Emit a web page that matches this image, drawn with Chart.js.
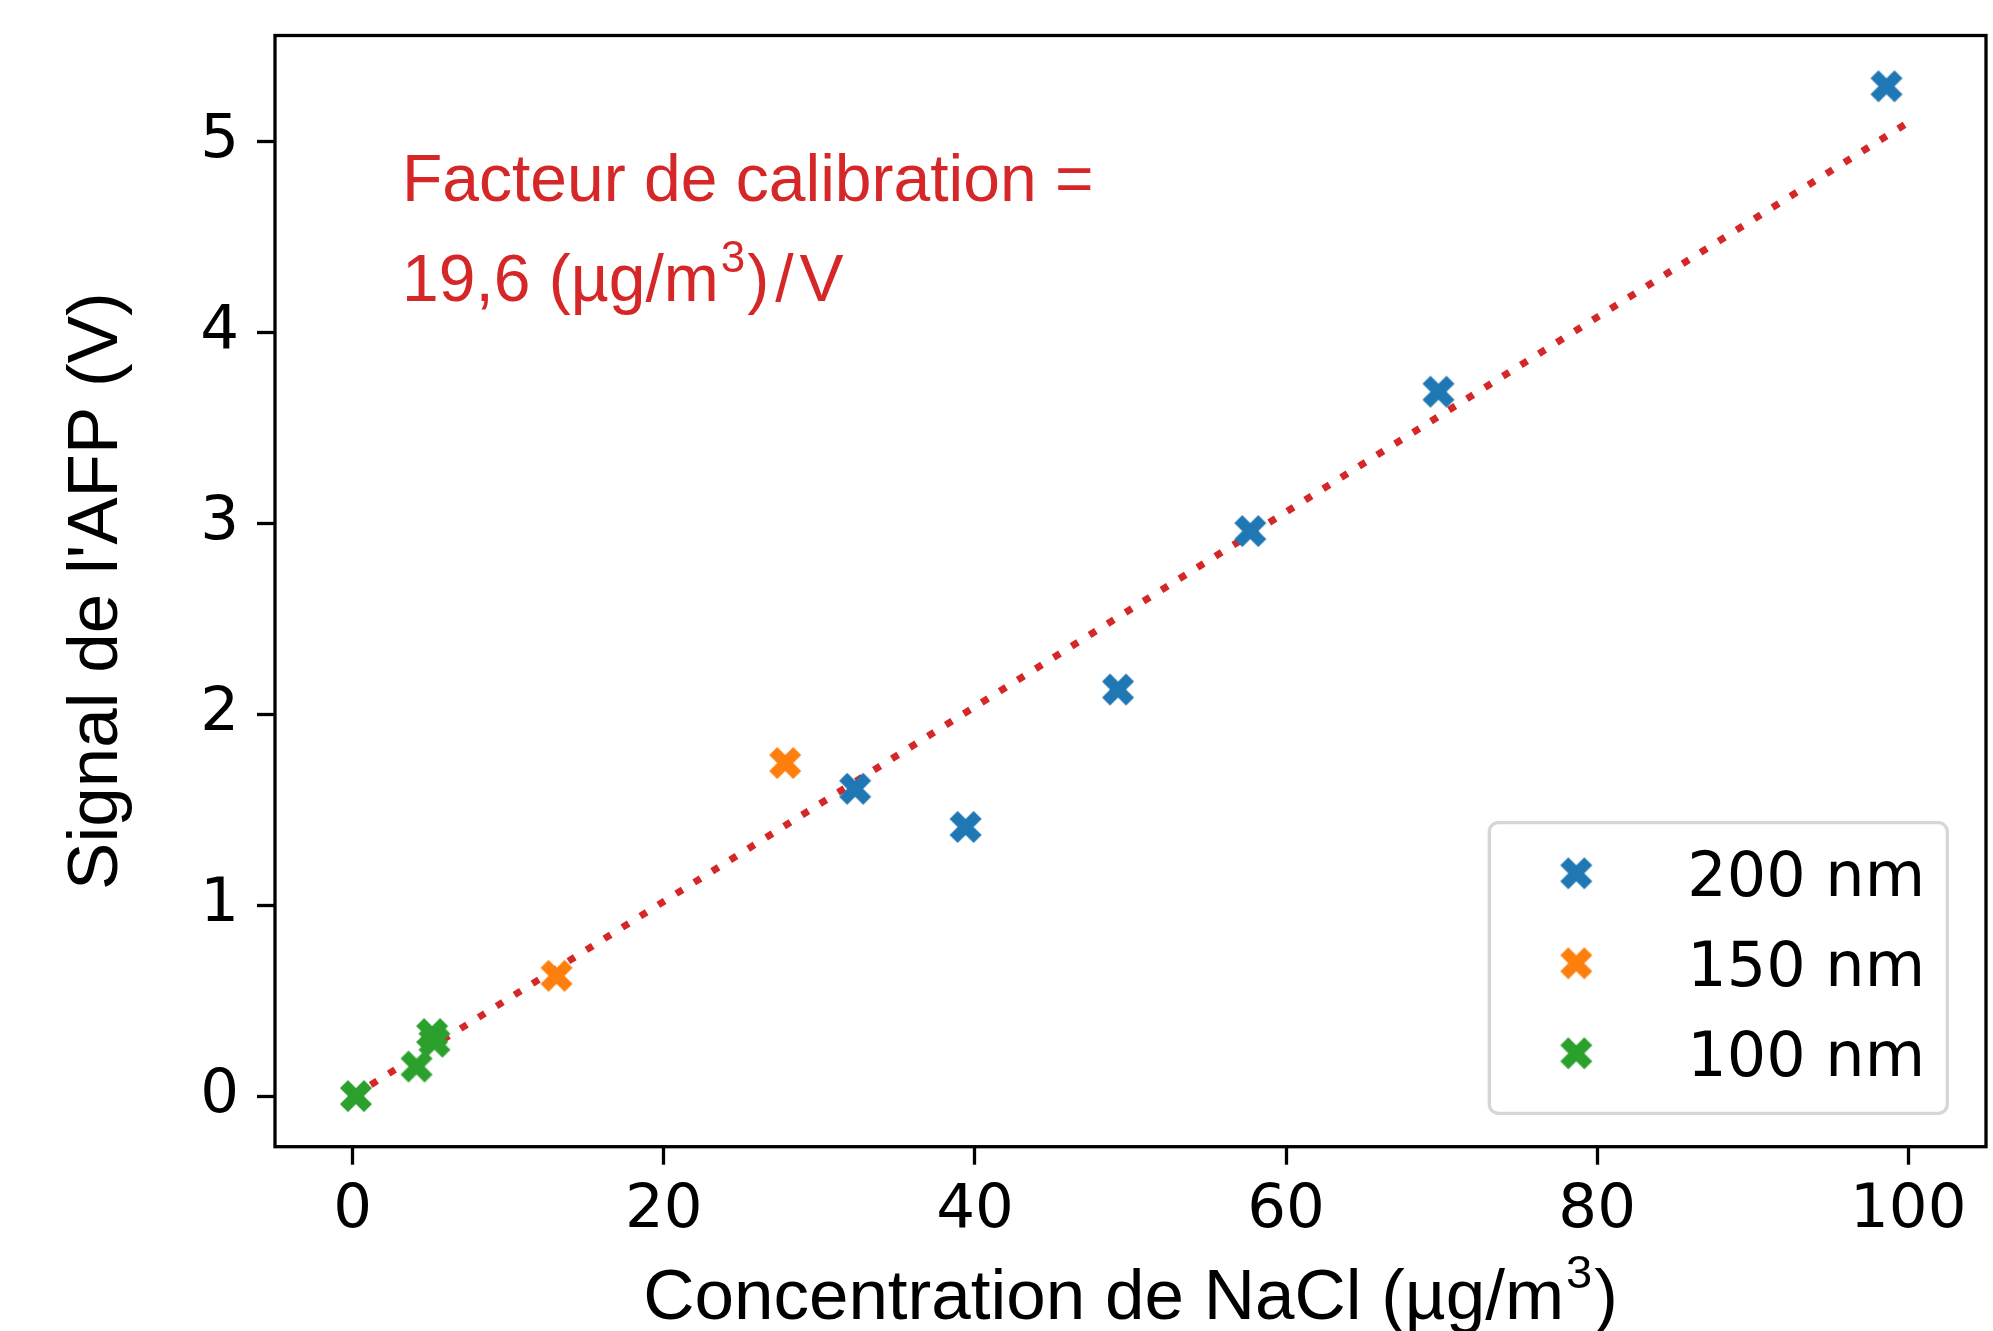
<!DOCTYPE html>
<html>
<head>
<meta charset="utf-8">
<script src="https://cdn.jsdelivr.net/npm/chart.js@4.4.1/dist/chart.umd.min.js"></script>
<style>
  html, body { margin: 0; padding: 0; background: #fff; }
  canvas { display: block; }
</style>
</head>
<body>
<canvas id="calibChart" width="1993" height="1331"></canvas>
<script>
// values
const x200 = [98.6, 69.8, 57.7, 49.2, 39.4, 32.3];
const y200 = [5.29, 3.69, 2.96, 2.13, 1.41, 1.61];
const x150 = [27.8, 13.1];
const y150 = [1.745, 0.63];
const x100 = [0.2, 4.1, 5.1, 5.25];
const y100 = [0.0, 0.155, 0.325, 0.285];
const fitX = [0, 100];
const fitY = [0.0, 5.10];
const seriesLabels = ['200 nm', '150 nm', '100 nm'];
const xTicks = [0, 20, 40, 60, 80, 100];
const yTicks = [0, 1, 2, 3, 4, 5];

const blue = '#1f77b4', orange = '#ff7f0e', green = '#2ca02c', red = '#d62728';
const tickFont = { family: 'DejaVu Sans', size: 61 };
const labelFamily = '"Liberation Sans", Arial, sans-serif';

// filled "X" marker like matplotlib's
function makeMarker(color, size) {
    const c = document.createElement('canvas');
    c.width = c.height = size + 4;
    const g = c.getContext('2d');
    const pts = [[-1,-2],[0,-1],[1,-2],[2,-1],[1,0],[2,1],[1,2],[0,1],[-1,2],[-2,1],[-1,0],[-2,-1]];
    g.fillStyle = color;
    g.beginPath();
    pts.forEach(function (p, i) {
        const px = c.width / 2 + p[0] / 4 * size;
        const py = c.height / 2 + p[1] / 4 * size;
        if (i === 0) g.moveTo(px, py); else g.lineTo(px, py);
    });
    g.closePath();
    g.fill();
    return c;
}

function toPoints(xs, ys) {
    return xs.map(function (x, i) { return { x: x, y: ys[i] }; });
}

// draw a run of text pieces (for superscripts), returns total width
function drawRuns(ctx, runs, x, y, measureOnly) {
    let cx = x;
    runs.forEach(function (r) {
        ctx.font = r.size + 'px ' + labelFamily;
        cx += r.gap || 0;
        if (!measureOnly) ctx.fillText(r.t, cx, y - (r.rise || 0));
        cx += ctx.measureText(r.t).width;
    });
    return cx - x;
}

const extras = {
    id: 'extras',
    afterDatasetsDraw(chart) {
        const ctx = chart.ctx, ca = chart.chartArea;
        ctx.save();
        ctx.strokeStyle = '#000';
        ctx.lineWidth = 3.3;
        ctx.strokeRect(ca.left, ca.top, ca.right - ca.left, ca.bottom - ca.top);
        ctx.restore();
    },
    afterDraw(chart) {
        const ctx = chart.ctx, ca = chart.chartArea;
        ctx.save();

        // legend box
        const bw = 458, bh = 290.6;
        const bx = ca.right - 38.7 - bw, by = ca.bottom - 33.4 - bh;
        ctx.beginPath();
        ctx.roundRect(bx, by, bw, bh, 9);
        ctx.fillStyle = 'rgba(255,255,255,0.8)';
        ctx.fill();
        ctx.strokeStyle = '#d6d6d6';
        ctx.lineWidth = 3.3;
        ctx.stroke();
        ctx.font = '62px "DejaVu Sans"';
        ctx.fillStyle = '#000';
        ctx.textAlign = 'left';
        ctx.textBaseline = 'alphabetic';
        for (let i = 0; i < 3; i++) {
            const ds = chart.data.datasets[i];
            const cy = by + 50.6 + i * 90;
            const img = ds.pointStyle;
            ctx.drawImage(img, bx + 87 - img.width / 2, cy - img.height / 2);
            ctx.fillText(ds.label, bx + 198, cy + 22.5);
        }

        // calibration note
        ctx.fillStyle = red;
        drawRuns(ctx, [{ t: 'Facteur de calibration =', size: 66 }], ca.left + 127, 201);
        drawRuns(ctx, [
            { t: '19,6 (µg/m', size: 66 },
            { t: '3', size: 44, rise: 29, gap: 2 },
            { t: ')', size: 66, gap: 2 },
            { t: '/', size: 66, gap: 6 },
            { t: 'V', size: 66, gap: 6 }
        ], ca.left + 127, 301);

        // axis titles
        ctx.fillStyle = '#000';
        const xRuns = [
            { t: 'Concentration de NaCl (µg/m', size: 71 },
            { t: '3', size: 47, rise: 31, gap: 2 },
            { t: ')', size: 71, gap: 2 }
        ];
        const w = drawRuns(ctx, xRuns, 0, 0, true);
        drawRuns(ctx, xRuns, (ca.left + ca.right) / 2 - w / 2, 1319);

        ctx.translate(117, (ca.top + ca.bottom) / 2);
        ctx.rotate(-Math.PI / 2);
        ctx.textAlign = 'center';
        ctx.font = '71px ' + labelFamily;
        ctx.fillText("Signal de l'AFP (V)", 0, 0);
        ctx.restore();
    }
};

const ctx = document.getElementById('calibChart').getContext('2d');
new Chart(ctx, {
    type: 'scatter',
    data: {
        datasets: [
            {
                label: seriesLabels[0],
                data: toPoints(x200, y200),
                pointStyle: makeMarker(blue, 32),
                pointRadius: 16,
                backgroundColor: blue,
                borderColor: blue,
                order: 1
            },
            {
                label: seriesLabels[1],
                data: toPoints(x150, y150),
                pointStyle: makeMarker(orange, 32),
                pointRadius: 16,
                backgroundColor: orange,
                borderColor: orange,
                order: 1
            },
            {
                label: seriesLabels[2],
                data: toPoints(x100, y100),
                pointStyle: makeMarker(green, 32),
                pointRadius: 16,
                backgroundColor: green,
                borderColor: green,
                order: 1
            },
            {
                label: 'fit',
                data: toPoints(fitX, fitY),
                showLine: true,
                pointRadius: 0,
                borderColor: red,
                borderWidth: 7,
                borderDash: [7.5, 13.7],
                borderCapStyle: 'butt',
                fill: false,
                order: 5
            }
        ]
    },
    options: {
        responsive: false,
        animation: false,
        devicePixelRatio: 1,
        layout: { autoPadding: false, padding: { top: 35.5, right: 7, left: 0, bottom: 0 } },
        plugins: {
            legend: { display: false },
            tooltip: { enabled: false }
        },
        scales: {
            x: {
                type: 'linear',
                min: -5,
                max: 105,
                afterBuildTicks: function (s) { s.ticks = xTicks.map(function (v) { return { value: v }; }); },
                afterFit: function (s) { s.height = 184.3; s.paddingLeft = 0; s.paddingRight = 0; },
                grid: { drawOnChartArea: false, drawTicks: true, tickLength: 18, tickWidth: 3.3, tickColor: '#000', color: '#000' },
                border: { display: false },
                ticks: { color: '#000', font: tickFont, padding: 10, maxRotation: 0 }
            },
            y: {
                type: 'linear',
                min: -0.265,
                max: 5.556,
                afterBuildTicks: function (s) { s.ticks = yTicks.map(function (v) { return { value: v }; }); },
                afterFit: function (s) { s.width = 275; s.paddingTop = 0; s.paddingBottom = 0; },
                grid: { drawOnChartArea: false, drawTicks: true, tickLength: 18, tickWidth: 3.3, tickColor: '#000', color: '#000' },
                border: { display: false },
                ticks: { color: '#000', font: tickFont, padding: 18 }
            }
        }
    },
    plugins: [extras]
});
</script>
</body>
</html>
